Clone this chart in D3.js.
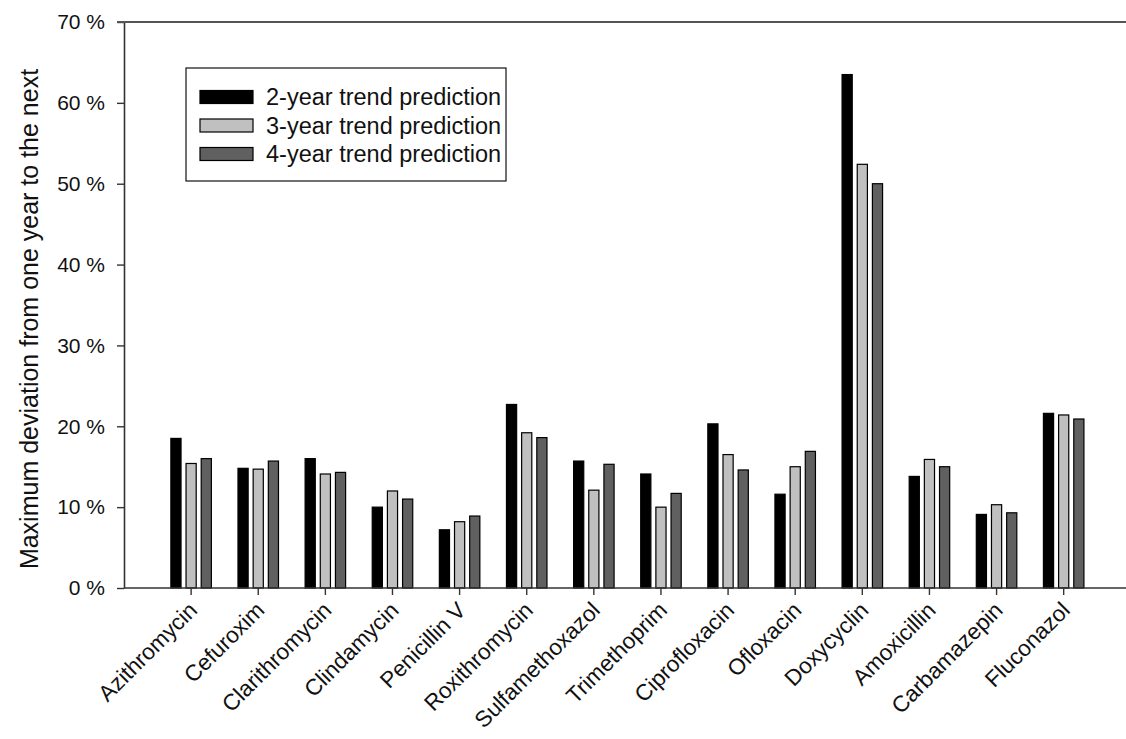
<!DOCTYPE html>
<html>
<head>
<meta charset="utf-8">
<script src="https://cdn.jsdelivr.net/npm/d3@7"></script>
<style>
  html, body { margin: 0; padding: 0; background: #fff; }
  svg { display: block; font-family: "Liberation Sans", Arial, sans-serif; }
</style>
</head>
<body>
<svg id="chart" width="1126" height="739"></svg>
<script>
const categories = ["Azithromycin","Cefuroxim","Clarithromycin","Clindamycin","Penicillin V","Roxithromycin","Sulfamethoxazol","Trimethoprim","Ciprofloxacin","Ofloxacin","Doxycyclin","Amoxicillin","Carbamazepin","Fluconazol"];
const seriesNames = ["2-year trend prediction","3-year trend prediction","4-year trend prediction"];
const twoYear   = [18.5, 14.8, 16.0, 10.0, 7.2, 22.7, 15.7, 14.1, 20.3, 11.6, 63.5, 13.8, 9.1, 21.6];
const threeYear = [15.4, 14.7, 14.1, 12.0, 8.2, 19.2, 12.1, 10.0, 16.5, 15.0, 52.4, 15.9, 10.3, 21.4];
const fourYear  = [16.0, 15.7, 14.3, 11.0, 8.9, 18.6, 15.3, 11.7, 14.6, 16.9, 50.0, 15.0, 9.3, 20.9];
const yTicks = [0, 10, 20, 30, 40, 50, 60, 70];
const yTitle = "Maximum deviation from one year to the next";

const seriesValues = [twoYear, threeYear, fourYear];
const fills = ["#000000", "#c0c0c0", "#606060"];

const svg = d3.select("#chart");
const W = 1126;
const mLeft = 124, mTop = 22, mBottom = 588;

const x = d3.scaleBand().domain(categories).range([mLeft, mLeft + 15 * 67.12]).paddingInner(0).paddingOuter(0.5);
const x1 = d3.scaleBand().domain(seriesNames).range([-20.25, 20.25]).paddingInner(0.33).paddingOuter(0);
const y = d3.scaleLinear().domain([0, 70]).range([mBottom, mTop]);

// bars
const groups = svg.append("g").selectAll("g").data(categories).join("g")
  .attr("transform", d => `translate(${x(d) + x.bandwidth() / 2},0)`);
groups.selectAll("rect")
  .data((d, i) => seriesNames.map((s, j) => ({ s, j, v: seriesValues[j][i] })))
  .join("rect")
  .attr("x", d => x1(d.s))
  .attr("width", x1.bandwidth())
  .attr("y", d => y(d.v))
  .attr("height", d => y(0) - y(d.v))
  .attr("fill", d => fills[d.j])
  .attr("stroke", "#000")
  .attr("stroke-width", 1.2);

// y axis
const yAxis = svg.append("g").attr("transform", `translate(${mLeft},0)`)
  .call(d3.axisLeft(y).tickValues(yTicks).tickFormat(d => d + " %").tickSize(7).tickSizeOuter(0).tickPadding(12));
yAxis.select(".domain").attr("stroke", "#333").attr("stroke-width", 1.6);
yAxis.selectAll(".tick line").attr("stroke", "#333").attr("stroke-width", 1.4);
yAxis.selectAll("text").attr("font-size", 21).attr("fill", "#111").attr("font-family", "Liberation Sans, Arial, sans-serif");

// x axis
const xAxis = svg.append("g").attr("transform", `translate(0,${mBottom})`)
  .call(d3.axisBottom(x).tickSize(7).tickSizeOuter(0).tickFormat(""));
xAxis.select(".domain").remove();
xAxis.selectAll(".tick line").attr("stroke", "#333").attr("stroke-width", 1.4);
xAxis.selectAll(".tick").append("text")
  .attr("transform", "translate(2,18) rotate(-45)")
  .attr("text-anchor", "end")
  .attr("dy", "0.35em")
  .attr("font-size", 22.5)
  .attr("fill", "#111")
  .attr("font-family", "Liberation Sans, Arial, sans-serif")
  .text(d => d);

// frame lines (bottom axis line and top line)
svg.append("line").attr("x1", mLeft).attr("x2", W).attr("y1", mBottom).attr("y2", mBottom)
  .attr("stroke", "#333").attr("stroke-width", 1.6);
svg.append("line").attr("x1", mLeft - 7).attr("x2", W).attr("y1", mTop).attr("y2", mTop)
  .attr("stroke", "#555").attr("stroke-width", 1.8);

// y title
svg.append("text")
  .attr("transform", `translate(38,319) rotate(-90)`)
  .attr("text-anchor", "middle")
  .attr("font-size", 25)
  .attr("fill", "#111")
  .text(yTitle);

// legend
const lg = svg.append("g");
lg.append("rect").attr("x", 186).attr("y", 68).attr("width", 320).attr("height", 113)
  .attr("fill", "#fff").attr("stroke", "#111").attr("stroke-width", 1.2);
const rowY = d3.scalePoint().domain(seriesNames).range([97, 154]);
const items = lg.selectAll("g.item").data(seriesNames).join("g").attr("class", "item")
  .attr("transform", d => `translate(0,${rowY(d)})`);
items.append("rect").attr("x", 200).attr("y", -6.5).attr("width", 53).attr("height", 13)
  .attr("fill", (d, i) => fills[i]).attr("stroke", "#000").attr("stroke-width", 1.2);
items.append("text").attr("x", 266).attr("y", 0).attr("dy", "0.35em")
  .attr("font-size", 23.5).attr("fill", "#111").text(d => d);
</script>
</body>
</html>
